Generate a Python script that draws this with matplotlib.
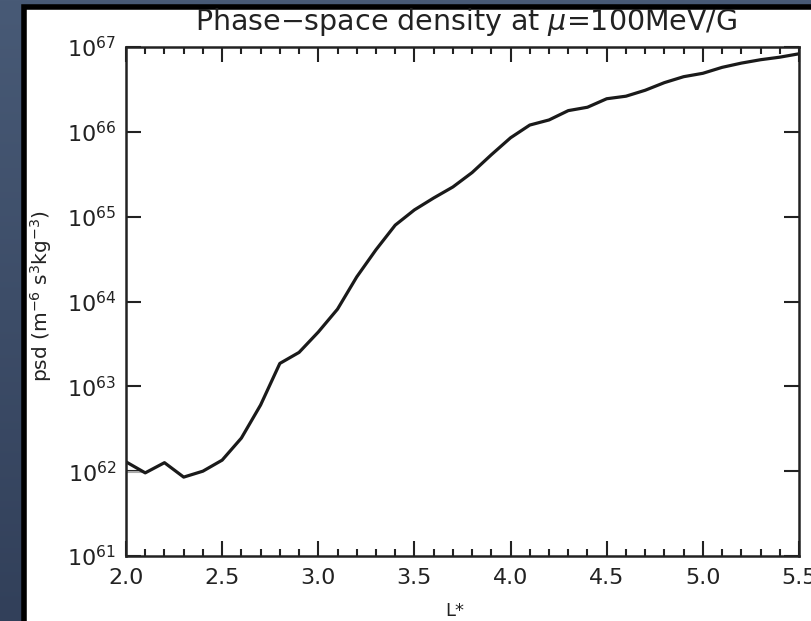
import numpy as np
import matplotlib
matplotlib.use('Agg')
import matplotlib.pyplot as plt
from matplotlib.patches import Rectangle
from matplotlib.ticker import MultipleLocator, LogLocator, NullLocator

# L* grid and log10 of phase-space density
lstar = [2.0, 2.1, 2.2, 2.3, 2.4, 2.5, 2.6, 2.7, 2.8, 2.9,
         3.0, 3.1, 3.2, 3.3, 3.4, 3.5, 3.6, 3.7, 3.8, 3.9,
         4.0, 4.1, 4.2, 4.3, 4.4, 4.5, 4.6, 4.7, 4.8, 4.9,
         5.0, 5.1, 5.2, 5.3, 5.4, 5.5]
log_psd = [62.11, 61.98, 62.10, 61.93, 62.00, 62.13, 62.39, 62.78, 63.27, 63.40,
           63.64, 63.91, 64.29, 64.61, 64.90, 65.08, 65.22, 65.35, 65.52, 65.73,
           65.93, 66.08, 66.14, 66.25, 66.29, 66.39, 66.42, 66.49, 66.58, 66.65,
           66.69, 66.76, 66.81, 66.85, 66.88, 66.92]
# faint second trace near the left edge
lstar_b = [2.0, 2.09]
log_psd_b = [61.99, 61.99]

xticks = [2.0, 2.5, 3.0, 3.5, 4.0, 4.5, 5.0, 5.5]
xticklabels = ['2.0', '2.5', '3.0', '3.5', '4.0', '4.5', '5.0', '5.5']

fig = plt.figure(figsize=(8.11, 6.21), dpi=100)

# dark slate background with vertical gradient
bg = fig.add_axes([0, 0, 1, 1], zorder=-10)
grad = np.linspace(0, 1, 256).reshape(-1, 1)
top = np.array([72, 90, 118]) / 255
bot = np.array([50, 64, 90]) / 255
img = top + (bot - top) * grad[:, :, None]
bg.imshow(img, aspect='auto', extent=[0, 1, 0, 1])
bg.set_axis_off()

# white panel with black border on top/left (right and bottom run off the canvas)
fig.patches.append(Rectangle((24 / 811, -0.1), 1.2, 1.1 - 7 / 621, transform=fig.transFigure,
                             facecolor='white', edgecolor='black', linewidth=4, zorder=-5))

ax = fig.add_axes([126 / 811, 1 - 556 / 621, 673 / 811, 509 / 621])
ax.plot(lstar_b, 10.0 ** np.array(log_psd_b), color='#aaaaaa', lw=1.5)
ax.plot(lstar, 10.0 ** np.array(log_psd), color='#1a1a1a', lw=2.3)

ax.set_yscale('log')
ax.set_xlim(2.0, 5.5)
ax.set_ylim(1e61, 1e67)
ax.set_xticks(xticks)
ax.set_xticklabels(xticklabels)
ax.xaxis.set_minor_locator(MultipleLocator(0.1))
ax.yaxis.set_major_locator(LogLocator(base=10, numticks=10))
ax.yaxis.set_minor_locator(NullLocator())

ax.tick_params(axis='both', which='both', direction='in', top=True, right=True,
               colors='#222222', labelsize=16)
ax.tick_params(axis='both', which='major', length=11, width=1.5)
ax.tick_params(axis='x', which='minor', length=5, width=1.5)
ax.tick_params(axis='x', which='major', pad=9)
ax.tick_params(axis='y', which='major', pad=7)
for s in ax.spines.values():
    s.set_linewidth(1.8)
    s.set_color('#222222')

fig.text(466 / 811, 1 - 22 / 621, 'Phase\u2212space density at $\\mu$=100MeV/G',
         ha='center', va='center', fontsize=20.5, color='#222222')
fig.text(41 / 811, 1 - 296 / 621, 'psd (m$^{-6}$ s$^{3}$kg$^{-3}$)', rotation=90,
         ha='center', va='center', fontsize=14.5, color='#222222')
fig.text(455 / 811, 1 - 602 / 621, 'L*', ha='center', va='top', fontsize=13,
         color='#222222')

fig.savefig('out.png', dpi=100)
